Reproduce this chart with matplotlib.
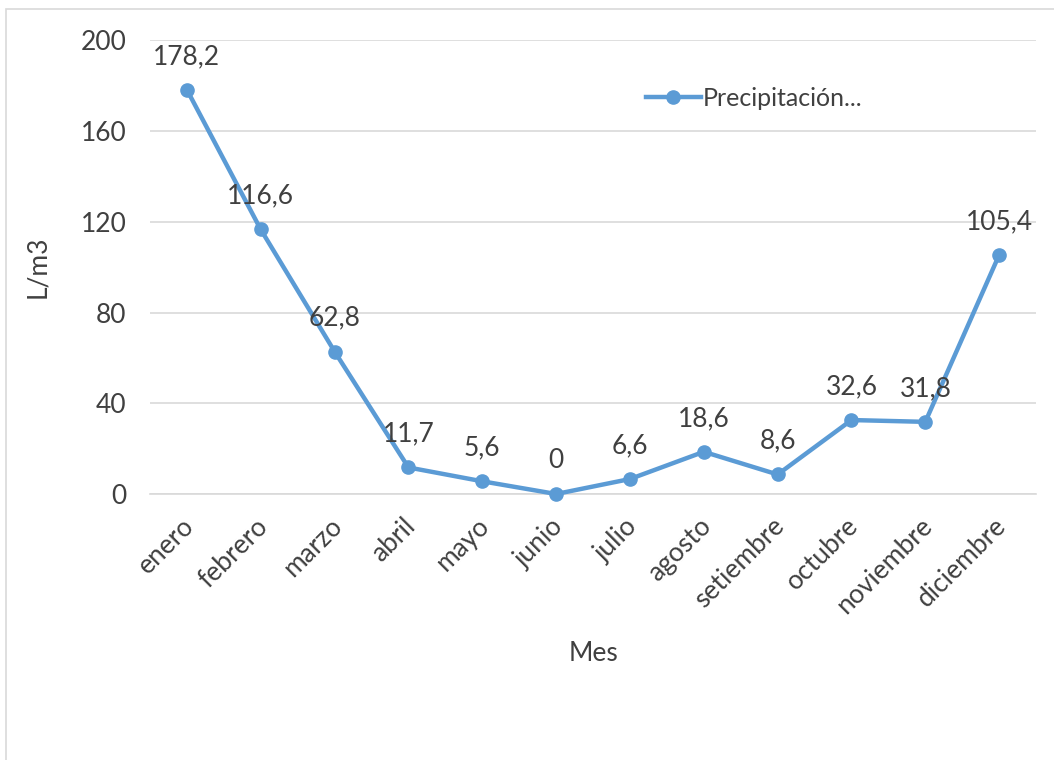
import matplotlib.pyplot as plt
from matplotlib.patches import Rectangle
from matplotlib.transforms import ScaledTranslation

# Monthly precipitation
meses = ['enero', 'febrero', 'marzo', 'abril', 'mayo', 'junio', 'julio',
         'agosto', 'setiembre', 'octubre', 'noviembre', 'diciembre']
precipitacion = [178.2, 116.6, 62.8, 11.7, 5.6, 0, 6.6, 18.6, 8.6, 32.6, 31.8, 105.4]
yticks = [0, 40, 80, 120, 160, 200]

plt.rcParams['font.family'] = ['Lato', 'DejaVu Sans']
text_color = '#404040'
line_color = '#5B9BD5'
fs = 19

fig = plt.figure(figsize=(10.54, 7.6), dpi=100)
ax = fig.add_axes([0.1423, 0.35, 0.8407, 0.597])

x = list(range(len(meses)))
ax.plot(x, precipitacion, color=line_color, linewidth=3.2, marker='o',
        markersize=9.5, label='Precipitación...', zorder=3, clip_on=False)

for xi, v in zip(x, precipitacion):
    label = f'{v:g}'.replace('.', ',')
    ax.annotate(label, (xi, v), xytext=(0, 24), textcoords='offset points',
                ha='center', va='center', fontsize=fs, color=text_color)

ax.set_xlim(-0.5, len(meses) - 0.5)
ax.set_ylim(0, 200)
ax.set_yticks(yticks)
ax.set_xticks(x)
ax.set_xticklabels(meses, rotation=45, ha='right', rotation_mode='anchor')
ax.tick_params(axis='both', length=0, labelsize=fs, labelcolor=text_color)
ax.tick_params(axis='y', pad=17)
ax.tick_params(axis='x', pad=14)

# nudge the rotated month labels a little to the left
shift = ScaledTranslation(-4 / 72, 0, fig.dpi_scale_trans)
for lbl in ax.get_xticklabels():
    lbl.set_transform(lbl.get_transform() + shift)

ax.grid(axis='y', color='#D9D9D9', linewidth=1.2)
ax.set_axisbelow(True)
for side in ['top', 'right', 'left']:
    ax.spines[side].set_visible(False)
ax.spines['bottom'].set_color('#D9D9D9')
ax.spines['bottom'].set_linewidth(1.2)

ax.set_ylabel('L/m3', fontsize=fs, color=text_color, labelpad=22)
ax.set_xlabel('Mes', fontsize=fs, color=text_color, labelpad=16)

ax.legend(loc='upper left', bbox_to_anchor=(0.548, 0.92), frameon=False,
          fontsize=18, labelcolor=text_color, handlelength=2.2,
          handletextpad=0.1, borderaxespad=0)

# Chart area outline
fig.patches.append(Rectangle((6 / 1054, -0.05), 1.1, 1 - 9 / 760 + 0.05,
                             transform=fig.transFigure, fill=False,
                             edgecolor='#D9D9D9', linewidth=1.2))

fig.savefig('out.png', dpi=100)
